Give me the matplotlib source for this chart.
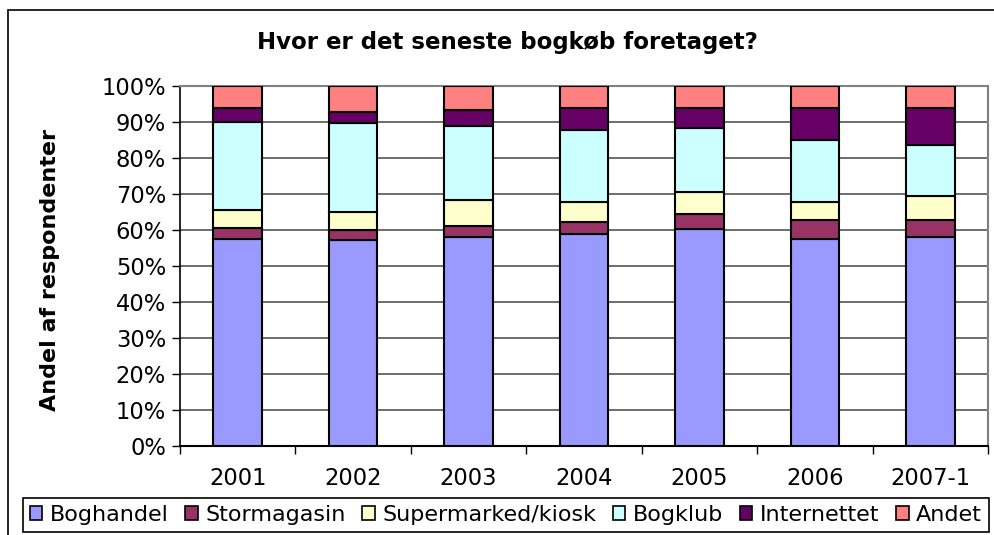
import matplotlib
matplotlib.use("Agg")
from matplotlib import pyplot as plt
from matplotlib.patches import Rectangle
from matplotlib.ticker import FixedLocator, PercentFormatter
import numpy as np

# data (percent of respondents)
years = ['2001', '2002', '2003', '2004', '2005', '2006', '2007-1']
series_names = ['Boghandel', 'Stormagasin', 'Supermarked/kiosk', 'Bogklub', 'Internettet', 'Andet']
boghandel = [57.6, 57.1, 58.1, 58.9, 60.4, 57.6, 58.1]
stormagasin = [2.9, 2.9, 3.1, 3.2, 4.0, 5.1, 4.6]
supermarked = [5.1, 5.0, 7.2, 5.7, 6.2, 5.1, 6.7]
bogklub = [24.3, 24.8, 20.4, 19.9, 17.7, 17.1, 14.3]
internettet = [3.9, 3.0, 4.6, 6.1, 5.5, 8.9, 10.1]
andet = [6.2, 7.2, 6.6, 6.2, 6.2, 6.2, 6.2]
colors = ['#9999FF', '#993366', '#FFFFCC', '#CCFFFF', '#660066', '#FF8080']

W, H = 995, 535
Figure = plt.figure(figsize=(W / 100, H / 100), dpi=100)
Graph = Figure.add_axes([180 / W, 1 - 446 / H, 808 / W, 360 / H])

# outer chart border (cut off at right and bottom like the reference)
Figure.patches.append(Rectangle((8 / W, -0.1), 1.2, 1 - 10 / H + 0.1, transform=Figure.transFigure,
                                fill=False, edgecolor='black', linewidth=1.2))

x = np.arange(len(years))
bottom = np.zeros(len(years))
for name, vals, c in zip(series_names, [boghandel, stormagasin, supermarked, bogklub, internettet, andet], colors):
    Graph.bar(x, vals, 0.42, bottom=bottom, color=c, edgecolor='black', linewidth=1.5, label=name, zorder=3)
    bottom += np.array(vals)

Graph.set_xlim(-0.5, len(years) - 0.5)
Graph.set_ylim(0, 100)
Graph.set_yticks(np.arange(0, 101, 10))
Graph.yaxis.set_major_formatter(PercentFormatter(decimals=0))
Graph.tick_params(axis='y', labelsize=16.3, direction='out', length=6, width=1, pad=4)
Graph.set_xticks(x)
Graph.set_xticklabels(years, fontsize=16.3)
Graph.tick_params(axis='x', which='major', length=0, pad=15)
Graph.xaxis.set_minor_locator(FixedLocator(np.arange(-0.5, len(years), 1.0)))
Graph.tick_params(axis='x', which='minor', direction='out', length=6, width=1)

Graph.set_axisbelow(True)
Graph.yaxis.grid(color='#555555', linestyle='solid', linewidth=1.2)
for s in ['top', 'right']:
    Graph.spines[s].set_color('#808080')
    Graph.spines[s].set_linewidth(1.5)
Graph.spines['left'].set_linewidth(1.2)
Graph.spines['bottom'].set_linewidth(1.5)

Figure.text(507 / W, 1 - 42 / H, 'Hvor er det seneste bogkøb foretaget?', ha='center', va='center',
            fontsize=16.5, fontweight='bold')
Figure.text(50 / W, 1 - 270 / H, 'Andel af respondenter', ha='center', va='center', rotation=90,
            fontsize=16, fontweight='bold')

lg = Figure.legend(loc='center', bbox_to_anchor=(506 / W, 1 - 515 / H), ncol=6, fontsize=16,
                   handlelength=0.55, handleheight=0.55, handletextpad=0.35, columnspacing=0.75,
                   borderpad=0.3, fancybox=False, edgecolor='black', framealpha=1)
lg.get_frame().set_linewidth(1.2)
for h in lg.legend_handles:
    h.set_linewidth(1.2)

Figure.savefig('out.png', dpi=100)
